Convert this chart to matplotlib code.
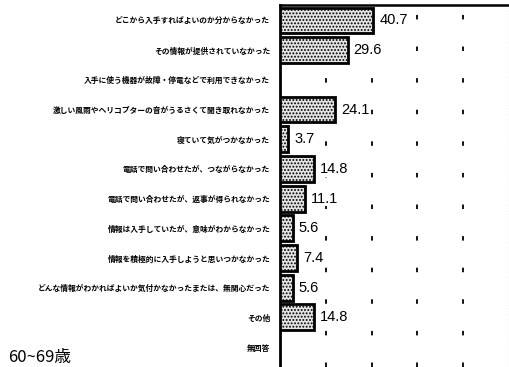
import matplotlib
matplotlib.use("Agg")
import matplotlib.pyplot as plt
import numpy as np

categories = [
    "どこから入手すればよいのか分からなかった",
    "その情報が提供されていなかった",
    "入手に使う機器が故障・停電などで利用できなかった",
    "激しい風雨やヘリコプターの音がうるさくて聞き取れなかった",
    "寝ていて気がつかなかった",
    "電話で問い合わせたが、つながらなかった",
    "電話で問い合わせたが、返事が得られなかった",
    "情報は入手していたが、意味がわからなかった",
    "情報を積極的に入手しようと思いつかなかった",
    "どんな情報がわかればよいか気付かなかったまたは、無関心だった",
    "その他",
    "無回答",
]
values = [40.7, 29.6, None, 24.1, 3.7, 14.8, 11.1, 5.6, 7.4, 5.6, 14.8, None]
x_ticks = [20, 40, 60, 80]
footer = "60~69歳"

plt.rcParams['hatch.color'] = '#8a8a8a'
plt.rcParams['hatch.linewidth'] = 0.9

W, H = 510, 367
fig = plt.figure(figsize=(W / 100, H / 100), dpi=100)
ax = fig.add_axes([280 / W, 0, 229 / W, 1 - 5 / H])

ypos = np.arange(len(categories))
for y, v in zip(ypos, values):
    if v is None:
        continue
    ax.barh(y, v, height=0.87, color='#e4e4e4', edgecolor='black',
            linewidth=2.0, hatch='.....', zorder=3)
    ax.text(v + 2.6, y, f"{v}", va='center', ha='left',
            fontsize=10.5, family=['Liberation Sans', 'DejaVu Sans'], zorder=4,
            bbox=dict(facecolor='white', edgecolor='none', pad=0.5))

ax.set_xlim(0, 100)
ax.set_ylim(11.67, -0.52)
ax.set_yticks(ypos)
ax.set_yticklabels(categories, fontsize=5.6, fontweight='bold',
                   family=['Noto Sans CJK JP', 'DejaVu Sans'])
ax.tick_params(axis='y', length=0, pad=7)
ax.set_xticks([])

for xv in x_ticks:
    ax.axvline(xv, color='black', linewidth=1.3, linestyle=(0, (2.5, 15)), zorder=1)
ax.axvline(100, color='#555555', linewidth=0.8, linestyle=(0, (1, 1.5)), zorder=1)

for s in ['right', 'bottom']:
    ax.spines[s].set_visible(False)
ax.spines['left'].set_linewidth(2)
ax.spines['top'].set_linewidth(1.8)

fig.text(8 / W, 1 / H, footer, ha='left', va='bottom', fontsize=12,
         family=['Noto Sans CJK JP', 'DejaVu Sans'])

fig.savefig("out.png", dpi=100)
